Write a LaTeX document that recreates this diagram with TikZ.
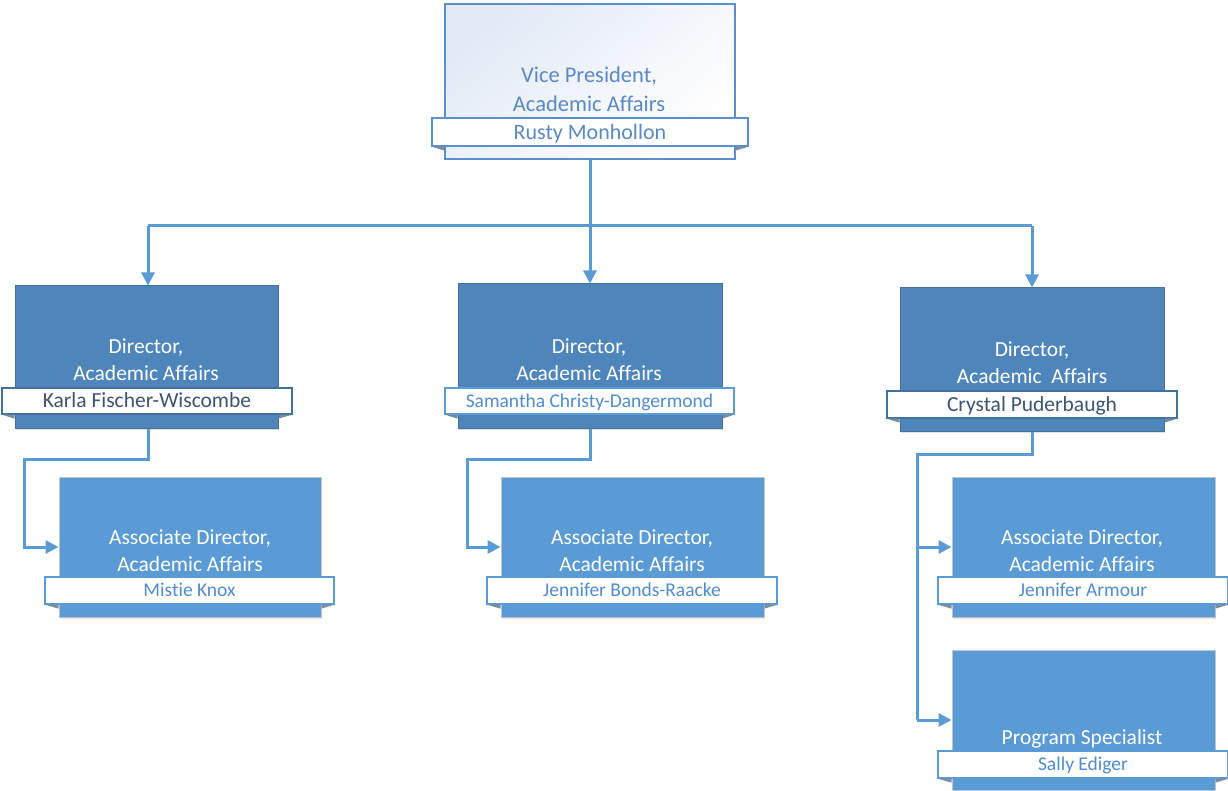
\documentclass[tikz,border=0pt]{standalone}
\usepackage{fontspec}
\setmainfont{Carlito}[Ligatures=NoCommon]
\usetikzlibrary{arrows.meta,shadows}

\definecolor{connc}{HTML}{5B9BD5}
\definecolor{dirfill}{HTML}{4E86BC}
\definecolor{dirline}{HTML}{41719C}
\definecolor{assocfill}{HTML}{5B9BD5}
\definecolor{assocline}{HTML}{BFC5CC}
\definecolor{vpline}{HTML}{5B8FCB}
\definecolor{vptext}{HTML}{5A89C4}
\definecolor{vptop}{HTML}{E2EAF6}
\definecolor{darkname}{HTML}{3E5473}
\definecolor{bluename}{HTML}{4F8CD0}
\definecolor{foldcol}{HTML}{7B8BA0}

% small folded corners under each name banner
\newcommand\foldmarks[2]{%
  \fill[foldcol] (#2.south west) -- (#2.south west -| #1.west) -- ++(0pt,-4pt) -- cycle;
  \fill[foldcol] (#2.south east) -- (#2.south east -| #1.east) -- ++(0pt,-4pt) -- cycle;}

\begin{document}
\begin{tikzpicture}[x=1pt,y=-1pt,
  conn/.style={draw=connc, line width=3pt},
  arrowed/.style={conn, -{Triangle[length=13pt,width=13pt]}},
  vpbox/.style={draw=vpline, line width=1.2pt, top color=vptop, bottom color=white, shading angle=40, inner sep=0pt},
  dirbox/.style={draw=dirline, line width=1pt, fill=dirfill, inner sep=0pt,
    drop shadow={opacity=.25, shadow xshift=1pt, shadow yshift=-2pt}},
  assocbox/.style={draw=assocline, line width=1pt, fill=assocfill, inner sep=0pt,
    drop shadow={opacity=.2, shadow xshift=1pt, shadow yshift=-2pt}},
  title/.style={align=center, text=white, inner sep=0pt, font=\fontsize{21.5}{27}\selectfont},
  banner/.style={fill=white, line width=1.2pt, inner sep=0pt, text depth=0pt,
    minimum height=27pt, minimum width=290pt},
  bigname/.style={font=\fontsize{21.5}{26}\selectfont, text height=13.8pt},
  smallname/.style={font=\fontsize{19.5}{24}\selectfont, text height=12.6pt},
]
\useasboundingbox (0,0) rectangle (1228,791);
\clip (0,0) rectangle (1228,791);

% ---- Vice President ----
\node[vpbox, minimum width=290pt, minimum height=155pt] (vp) at (590,81.5) {};
\node[title, text=vptext, font=\fontsize{22.5}{29}\selectfont] (vpt) at (589,89.5) {Vice President,\\Academic Affairs};
\node[banner, draw=vpline, text=vptext, minimum width=316pt, minimum height=28pt,
  font=\fontsize{22}{26}\selectfont, text height=14.2pt] (vpn) at (590,132) {Rusty Monhollon};
\foldmarks{vp}{vpn}

% ---- Directors ----
\node[dirbox, minimum width=263pt, minimum height=142pt] (d1) at (146.5,357) {};
\node[title] (d1t) at (146,359.5) {Director,\\Academic Affairs};
\node[banner, bigname, draw=dirline, text=darkname, minimum height=26pt] (d1n) at (147,401) {Karla Fischer-Wiscombe};
\foldmarks{d1}{d1n}

\node[dirbox, minimum width=264pt, minimum height=144pt] (d2) at (590,356) {};
\node[title] (d2t) at (589,359.5) {Director,\\Academic Affairs};
\node[banner, smallname, draw=connc, text=bluename, minimum width=289pt, minimum height=26pt] (d2n) at (589.5,401) {Samantha Christy-Dangermond};
\foldmarks{d2}{d2n}

\node[dirbox, minimum width=264pt, minimum height=143pt] (d3) at (1032,359.5) {};
\node[title] (d3t) at (1032,362.5) {Director,\\Academic\ \ Affairs};
\node[banner, bigname, draw=dirline, text=darkname] (d3n) at (1032,404.5) {Crystal Puderbaugh};
\foldmarks{d3}{d3n}

% ---- Associate directors and specialist ----
\node[assocbox, minimum width=262pt, minimum height=140pt] (a1) at (190,547) {};
\node[title] (a1t) at (190,550.5) {Associate Director,\\Academic Affairs};
\node[banner, smallname, draw=connc, text=bluename, minimum width=289pt] (a1n) at (189.5,590.5) {Mistie Knox};
\foldmarks{a1}{a1n}

\node[assocbox, minimum width=263pt, minimum height=140pt] (a2) at (632.5,547) {};
\node[title] (a2t) at (632,550.5) {Associate Director,\\Academic Affairs};
\node[banner, smallname, draw=connc, text=bluename] (a2n) at (632,590.5) {Jennifer Bonds-Raacke};
\foldmarks{a2}{a2n}

\node[assocbox, minimum width=263pt, minimum height=140pt] (a3) at (1083.5,547) {};
\node[title] (a3t) at (1082,550.5) {Associate Director,\\Academic Affairs};
\node[banner, smallname, draw=connc, text=bluename] (a3n) at (1083,590.5) {Jennifer Armour};
\foldmarks{a3}{a3n}

\node[assocbox, minimum width=263pt, minimum height=140pt] (p3) at (1083.5,720) {};
\node[title, anchor=base] (p3t) at (1082,744) {Program Specialist};
\node[banner, smallname, draw=connc, text=bluename] (p3n) at (1083,764.5) {Sally Ediger};
\foldmarks{p3}{p3n}

% ---- Connectors ----
\coordinate (busL) at (148,226);
\coordinate (busR) at (1032,226);
\draw[conn] (vp.south) -- (vp.south |- busL);
\draw[conn] (busL) -- (busR);
\draw[arrowed] (vp.south |- busL) -- (d2.north);
\draw[arrowed] (busL) -- (busL |- d1.north);
\draw[arrowed] (busR) -- (busR |- d3.north);

\coordinate (k1) at (24,459);
\draw[arrowed] (busL |- d1.south) -- (busL |- k1) -- (k1) -- (k1 |- a1.west) -- (a1.west);

\coordinate (k2) at (467,459);
\draw[arrowed] (d2.south) -- (d2.south |- k2) -- (k2) -- (k2 |- a2.west) -- (a2.west);

\coordinate (k3) at (917,454);
\draw[conn] (d3.south) -- (d3.south |- k3) -- (k3) -- (k3 |- p3.west);
\draw[arrowed] (k3 |- a3.west) -- (a3.west);
\draw[arrowed] (k3 |- p3.west) -- (p3.west);
\end{tikzpicture}
\end{document}
